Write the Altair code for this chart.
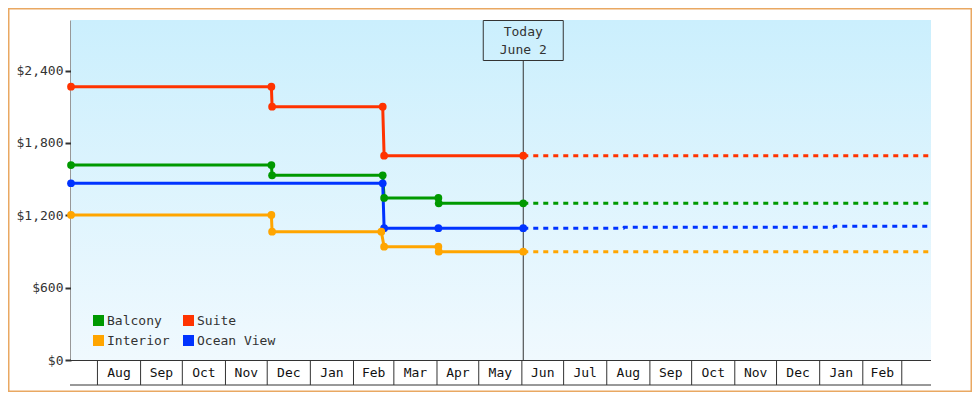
import altair as alt
import pandas as pd

FONT = "DejaVu Sans Mono"
TEXT = "#333333"

# ---- data -------------------------------------------------------------
categories = ["Balcony", "Suite", "Interior", "Ocean View"]
colors = ["#009900", "#ff3300", "#ffa500", "#0033ff"]

suite_dates = ["2023-07-13", "2023-12-04", "2023-12-04 12:00", "2024-02-22", "2024-02-23", "2024-06-02"]
suite_prices = [2267, 2267, 2101, 2101, 1695, 1695]

balcony_dates = ["2023-07-13", "2023-12-04", "2023-12-04 12:00", "2024-02-22", "2024-02-23",
                 "2024-04-02", "2024-04-02 06:00", "2024-06-02"]
balcony_prices = [1617, 1617, 1532, 1532, 1344, 1344, 1300, 1300]

ocean_dates = ["2023-07-13", "2024-02-22", "2024-02-23", "2024-04-02", "2024-06-02"]
ocean_prices = [1466, 1466, 1093, 1093, 1093]

interior_dates = ["2023-07-13", "2023-12-04", "2023-12-04 12:00", "2024-02-21", "2024-02-23",
                  "2024-04-02", "2024-04-02 06:00", "2024-06-02"]
interior_prices = [1203, 1203, 1064, 1064, 940, 940, 898, 898]

# projected (dashed) prices after today
suite_proj_dates = ["2024-06-02", "2025-03-22"]
suite_proj_prices = [1695, 1695]
balcony_proj_dates = ["2024-06-02", "2025-03-22"]
balcony_proj_prices = [1300, 1300]
ocean_proj_dates = ["2024-06-02", "2024-08-13", "2024-08-13 12:00", "2025-01-11", "2025-01-11 12:00", "2025-03-22"]
ocean_proj_prices = [1093, 1093, 1101, 1101, 1109, 1109]
interior_proj_dates = ["2024-06-02", "2025-03-22"]
interior_proj_prices = [898, 898]

today_date = "2024-06-02"
today_lines = ["Today", "June 2"]

month_labels = ["Aug", "Sep", "Oct", "Nov", "Dec", "Jan", "Feb", "Mar", "Apr", "May", "Jun",
                "Jul", "Aug", "Sep", "Oct", "Nov", "Dec", "Jan", "Feb"]
y_ticks = [0, 600, 1200, 1800, 2400]


def frame(name, dates, prices):
    return pd.DataFrame({"cabin": name, "date": pd.to_datetime(dates, format="mixed"),
                         "price": prices})


hist = pd.concat([
    frame("Suite", suite_dates, suite_prices),
    frame("Balcony", balcony_dates, balcony_prices),
    frame("Ocean View", ocean_dates, ocean_prices),
    frame("Interior", interior_dates, interior_prices),
], ignore_index=True)

proj = pd.concat([
    frame("Suite", suite_proj_dates, suite_proj_prices),
    frame("Balcony", balcony_proj_dates, balcony_proj_prices),
    frame("Ocean View", ocean_proj_dates, ocean_proj_prices),
    frame("Interior", interior_proj_dates, interior_proj_prices),
], ignore_index=True)

month_starts = pd.date_range("2023-08-01", periods=len(month_labels) + 1, freq="MS")
bounds = pd.DataFrame({"date": month_starts})
mids = month_starts[:-1] + (month_starts[1:] - month_starts[:-1]) / 2
months = pd.DataFrame({"date": mids, "label": month_labels})

today = pd.DataFrame({"date": pd.to_datetime([today_date])})
today_text = pd.DataFrame({"date": pd.to_datetime([today_date] * 2), "label": today_lines,
                           "row": [0, 1]})

# ---- layout -----------------------------------------------------------
W, H = 860, 340
PAD = {"left": 63, "top": 12, "right": 41, "bottom": 32}

x_scale = alt.Scale(domain=[alt.DateTime(year=2023, month=7, date=13),
                            alt.DateTime(year=2025, month=3, date=22)])
x_enc = alt.X("date:T", scale=x_scale, axis=None)
y_enc = alt.Y("price:Q", scale=alt.Scale(domain=[0, 2820], nice=False),
              axis=alt.Axis(values=y_ticks, format="$,.0f", title=None, grid=False,
                            labelFont=FONT, labelFontSize=13, labelColor=TEXT,
                            labelPadding=2, tickSize=6, tickWidth=2, tickColor=TEXT,
                            domainColor=TEXT, domainWidth=2))
color_scale = alt.Scale(domain=categories, range=colors)
color_enc = alt.Color("cabin:N", scale=color_scale, legend=None)

one = pd.DataFrame({"k": [0]})

bg = alt.Chart(one).mark_rect(
    color=alt.LinearGradient(gradient="linear",
                             stops=[alt.GradientStop(color="#cbeffd", offset=0),
                                    alt.GradientStop(color="#f0f9fe", offset=1)],
                             x1=0, x2=0, y1=0, y2=1)
).encode(x=alt.value(0), x2=alt.value(W), y=alt.value(0), y2=alt.value(H))

border = alt.Chart(one).mark_rect(fillOpacity=0, stroke="#e9a862", strokeWidth=1.5).encode(
    x=alt.value(-PAD["left"] + 0.75), x2=alt.value(W + PAD["right"] - 0.75),
    y=alt.value(-PAD["top"] + 0.75), y2=alt.value(H + PAD["bottom"] - 0.75))

x_line = alt.Chart(one).mark_rule(color=TEXT, strokeWidth=1).encode(
    x=alt.value(0), x2=alt.value(W), y=alt.value(H + 0.5))
bottom_line = alt.Chart(one).mark_rule(color=TEXT, strokeWidth=1).encode(
    x=alt.value(-1), x2=alt.value(W), y=alt.value(H + 25))

cell_rules = alt.Chart(bounds).mark_rule(color=TEXT, strokeWidth=1).encode(
    x=x_enc, y=alt.value(H), y2=alt.value(H + 25))
cell_text = alt.Chart(months).mark_text(font=FONT, fontSize=13, color="#111111",
                                        baseline="middle").encode(
    x=x_enc, y=alt.value(H + 13), text="label:N")

today_rule = alt.Chart(today).mark_rule(color=TEXT, strokeWidth=1).encode(
    x=x_enc, y=alt.value(40), y2=alt.value(H))
today_box = alt.Chart(today).mark_rect(fillOpacity=0, stroke=TEXT, strokeWidth=1,
                                       xOffset=-40, x2Offset=40).encode(
    x=x_enc, x2="date:T", y=alt.value(0.5), y2=alt.value(40.5))
today_t1 = alt.Chart(today_text).transform_filter("datum.row == 0").mark_text(
    font=FONT, fontSize=13, color=TEXT, baseline="middle").encode(
    x=x_enc, y=alt.value(11.5), text="label:N")
today_t2 = alt.Chart(today_text).transform_filter("datum.row == 1").mark_text(
    font=FONT, fontSize=13, color=TEXT, baseline="middle").encode(
    x=x_enc, y=alt.value(29.5), text="label:N")

lines = alt.Chart(hist).mark_line(strokeWidth=3).encode(
    x=x_enc, y=y_enc, color=color_enc, detail="cabin:N")
proj_lines = alt.Chart(proj).mark_line(strokeWidth=3, strokeDash=[5, 5]).encode(
    x=x_enc, y=y_enc, color=color_enc, detail="cabin:N")
points = alt.Chart(hist).mark_circle(size=60, opacity=1).encode(
    x=x_enc, y=y_enc, color=color_enc)

# manual legend (2 columns, inside plot bottom-left)
legend_layers = []
for i, (name, col) in enumerate(zip(categories, colors)):
    cx = 27.5 + (i % 2) * 90
    cy = 300.5 + (i // 2) * 20
    legend_layers.append(alt.Chart(one).mark_square(size=121, color=col, opacity=1).encode(
        x=alt.value(cx), y=alt.value(cy)))
    legend_layers.append(alt.Chart(one).mark_text(font=FONT, fontSize=13, color=TEXT,
                                                  align="left", baseline="middle").encode(
        x=alt.value(cx + 8.5), y=alt.value(cy), text=alt.value(name)))

chart = alt.layer(
    bg, border, x_line, bottom_line, cell_rules, cell_text,
    today_rule, today_box, today_t1, today_t2,
    lines, proj_lines, points, *legend_layers,
).properties(
    width=W, height=H,
    autosize=alt.AutoSizeParams(type="none"),
    padding=PAD,
    background="white",
).configure_view(strokeWidth=0)

chart.save("out.html", embed_options={"renderer": "svg", "actions": False})
